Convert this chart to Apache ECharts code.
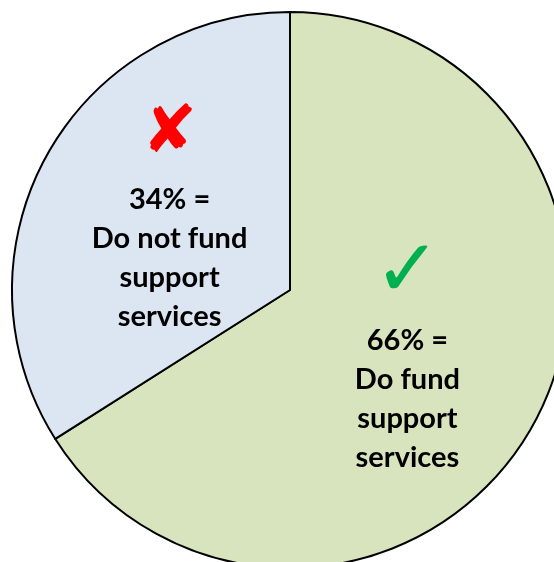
<!DOCTYPE html>
<html>
<head>
<meta charset="utf-8">
<script src="https://cdn.jsdelivr.net/npm/echarts@6/dist/echarts.min.js"></script>
<style>
  html, body { margin: 0; padding: 0; background: #fff; }
  #pie-chart { width: 554px; height: 562px; }
</style>
</head>
<body>
<div id="pie-chart"></div>
<script>
  // 数据
  var names = ['Do fund\nsupport\nservices', 'Do not fund\nsupport\nservices'];
  var values = [66, 34];
  var marks = ['✓', '✘'];
  var colors = ['#D7E4BD', '#DCE6F2'];
  var markColors = ['#00B050', '#FF0000'];

  var myChart = echarts.init(document.getElementById('pie-chart'));

  var pieData = values.map(function (v, i) {
    return {
      name: names[i],
      value: v,
      itemStyle: { color: colors[i] },
      label: {
        formatter: '{m' + i + '|' + marks[i] + '}\n{t|' + v + '% =}\n{t|' + names[i].split('\n').join('}\n{t|') + '}'
      }
    };
  });

  // 标签微调
  var labelShift = [[-7, -5], [4, -9]];

  var options = {
    animation: false,
    series: [{
      type: 'pie',
      center: [290, 290],
      radius: 278,
      startAngle: 90,
      clockwise: true,
      data: pieData,
      itemStyle: {
        borderColor: '#000',
        borderWidth: 2
      },
      label: {
        show: true,
        position: 'inside',
        color: '#000',
        rich: {
          t: {
            fontFamily: 'Lato',
            fontWeight: 'bold',
            fontSize: 29,
            lineHeight: 39,
            color: '#000',
            align: 'center'
          },
          m0: {
            fontFamily: 'DejaVu Sans',
            fontSize: 80,
            lineHeight: 91,
            color: markColors[0],
            align: 'center'
          },
          m1: {
            fontFamily: 'DejaVu Sans',
            fontSize: 66,
            lineHeight: 91,
            color: markColors[1],
            align: 'center'
          }
        }
      },
      labelLayout: function (p) {
        return { dx: labelShift[p.dataIndex][0], dy: labelShift[p.dataIndex][1] };
      },
      labelLine: { show: false },
      emphasis: { disabled: true }
    }]
  };
  myChart.setOption(options);
</script>
</body>
</html>
